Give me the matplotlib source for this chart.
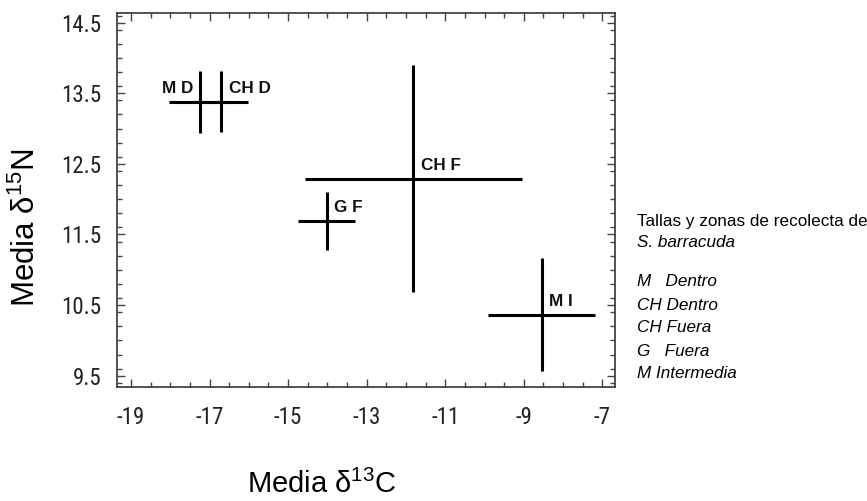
import numpy as np
import matplotlib
matplotlib.use("Agg")
import matplotlib.pyplot as plt
from matplotlib.ticker import MultipleLocator

plt.rcParams['font.family'] = ['Liberation Sans', 'DejaVu Sans']
plt.rcParams['mathtext.fontset'] = 'custom'
plt.rcParams['mathtext.rm'] = 'Liberation Sans'

NARROW = ['Roboto Condensed', 'Liberation Sans']

# group means and error half-widths
groups = ['M D', 'CH D', 'CH F', 'G F', 'M I']
d13c = [-17.24, -16.71, -11.81, -14.02, -8.54]
d15n = [13.38, 13.38, 12.29, 11.69, 10.36]
d13c_err = [0.80, 0.70, 2.76, 0.72, 1.36]
d15n_err = [0.44, 0.43, 1.61, 0.41, 0.80]

x_ticks = [-19, -17, -15, -13, -11, -9, -7]
y_ticks = [9.5, 10.5, 11.5, 12.5, 13.5, 14.5]

legend_title = ['Tallas y zonas de recolecta de', 'S. barracuda']
legend_items = ['M   Dentro', 'CH Dentro', 'CH Fuera', 'G   Fuera', 'M Intermedia']

fig = plt.figure(figsize=(8.67, 5.01), dpi=100)
ax = fig.add_axes([0.1346, 0.2281, 0.5751, 0.7466])

ax.errorbar(d13c, d15n, xerr=d13c_err, yerr=d15n_err, fmt='none',
            ecolor='black', elinewidth=2.2, capsize=0)

for name, x, y in zip(groups, d13c, d15n):
    if name == 'M D':
        off, ha = (-5, 6.5), 'right'
    else:
        off, ha = (5.5, 6.5), 'left'
    ax.annotate(name, (x, y), xytext=off, textcoords='offset points',
                ha=ha, va='baseline', fontsize=12.3, fontweight='bold',
                color='#111111')

ax.set_xlim(-19.364, -6.67)
ax.set_ylim(9.344, 14.64)
ax.set_xticks(x_ticks)
ax.set_yticks(y_ticks)
ax.set_xticklabels([str(t) for t in x_ticks])
ax.set_yticklabels([f'{t:.1f}' for t in y_ticks])
ax.xaxis.set_minor_locator(MultipleLocator(0.5))
ax.yaxis.set_minor_locator(MultipleLocator(0.2))
ax.tick_params(which='both', direction='in', top=True, right=True,
               color='#444444', width=1.0)
ax.tick_params(which='major', length=6, labelsize=16.5, labelcolor='#222222')
ax.tick_params(which='minor', length=3.3)
ax.tick_params(axis='x', pad=14)
ax.tick_params(axis='y', pad=11)
for lab in ax.get_xticklabels() + ax.get_yticklabels():
    lab.set_family(NARROW)
for sp in ax.spines.values():
    sp.set_color('#444444')
    sp.set_linewidth(1.3)

fig.text(322 / 867, 1 - 484 / 501, r'Media δ$^{\mathrm{13}}$C', fontsize=21,
         ha='center', va='center')
fig.text(26 / 867, 1 - 228 / 501, r'Media δ$^{\mathrm{15}}$N', fontsize=22.5,
         ha='center', va='center', rotation=90)

fig.text(637 / 867, 1 - 222 / 501, legend_title[0], fontsize=12.3,
         ha='left', va='center')
fig.text(637 / 867, 1 - 243 / 501, legend_title[1], fontsize=12.3,
         ha='left', va='center', style='italic')
for i, item in enumerate(legend_items):
    fig.text(637 / 867, 1 - (282 + 23 * i) / 501, item, fontsize=12.3,
             ha='left', va='center', style='italic')

fig.savefig('out.png', dpi=100)
